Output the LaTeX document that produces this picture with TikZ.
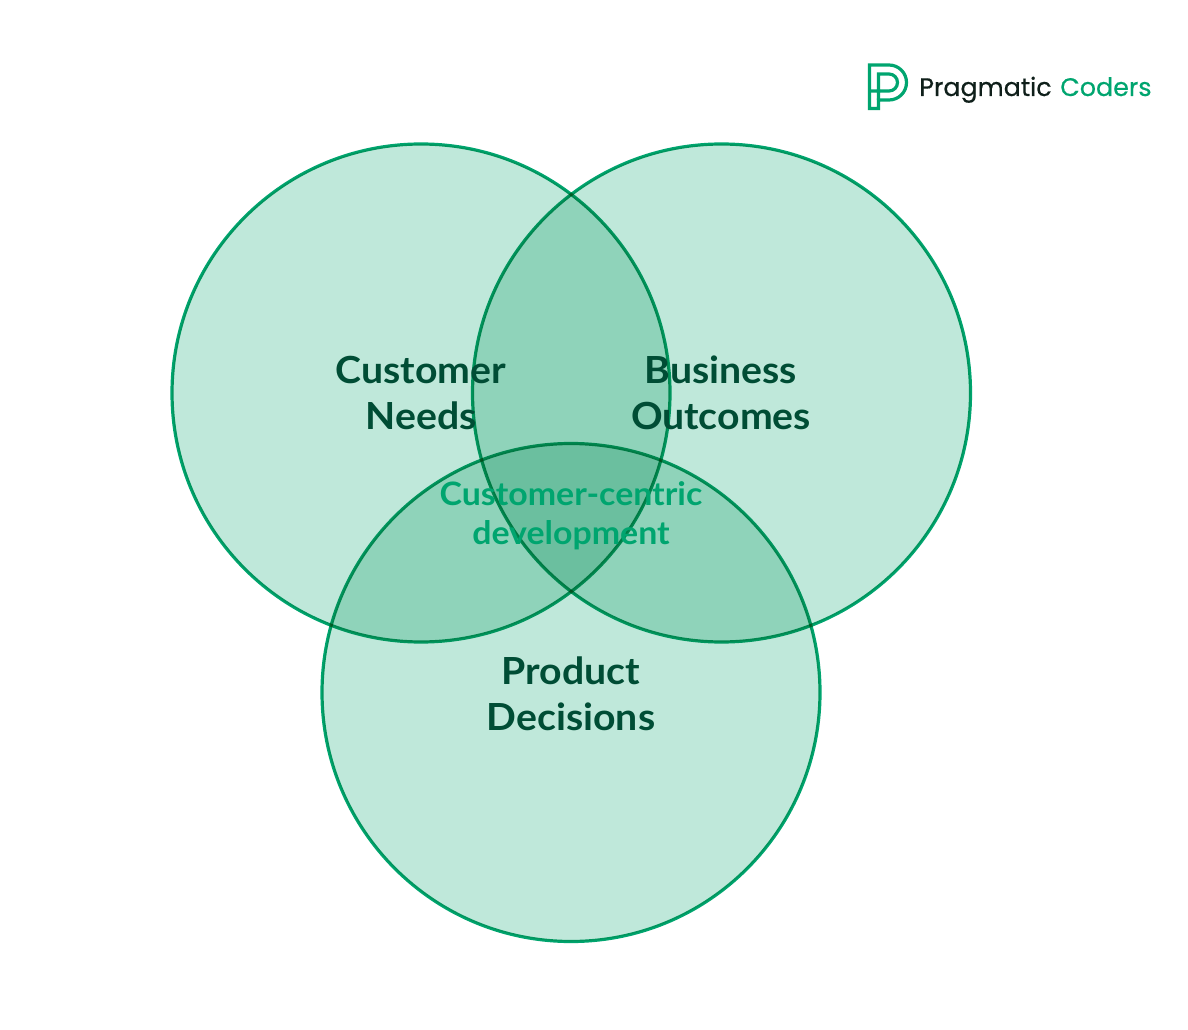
\documentclass[tikz,border=0pt]{standalone}
\usepackage{fontspec}
\setmainfont{Lato}[FakeStretch=1.05]
\newfontfamily\logofont{Poppins}[FakeBold=0.5]
\definecolor{vgreen}{HTML}{00A56F}
\definecolor{vfill}{HTML}{BFE8DA}
\definecolor{vdark}{HTML}{004D35}
\definecolor{logodark}{HTML}{0F1F1A}
\tikzset{
  x=0.75pt,y=-0.75pt,
  venn/.style={circle,draw=vgreen,fill=vfill,line width=2.4pt,minimum size=373.5pt,inner sep=0pt},
  setlabel/.style={align=center,text=vdark,font=\fontsize{28}{34.5}\selectfont\bfseries},
  corelabel/.style={align=center,text=vgreen,font=\fontsize{24.2}{29.5}\selectfont\bfseries},
  logoline/.style={draw=vgreen,line width=2.4pt,line join=miter},
  logotext/.style={anchor=base west,inner sep=0pt,font=\logofont\fontsize{19}{23}\selectfont}
}
\begin{document}
\begin{tikzpicture}
\useasboundingbox[fill=white] (0,0) rectangle (1188,1030);
\begin{scope}[blend group=multiply]
\node[venn] (cn) at (421,393) {};
\node[venn] (bo) at (721.5,393) {};
\node[venn] (pd) at (571,692.5) {};
\end{scope}
\node[setlabel] (cnl) at (421,393) {Customer\\Needs};
\node[setlabel] (bol) at (721,393) {Business\\Outcomes};
\node[setlabel] (pdl) at (571,694) {Product\\Decisions};
\node[corelabel] (core) at (571,515.5) {Customer-centric\\development};
\draw[logoline] (869.5,65) -- (889,65) arc[start angle=-90,end angle=90,radius=17.5] -- (878.5,100) -- (878.5,108.5) -- (869.5,108.5) -- cycle;
\draw[logoline] (878.5,100) -- (878.5,74) -- (889,74) arc[start angle=-90,end angle=90,radius=8.5] -- (869.5,91);
\node[logotext,text=logodark] (lp) at (919,96) {Pragmatic};
\node[logotext,text=vgreen] (lc) at (1060,96) {Coders};
\end{tikzpicture}
\end{document}
